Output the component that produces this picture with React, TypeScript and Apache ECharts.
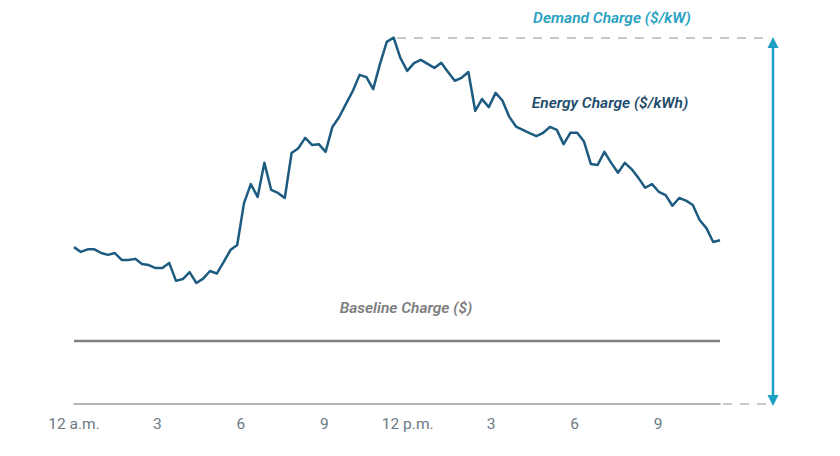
import React, { useEffect, useRef } from "react";
import * as echarts from "echarts";

// Time of each reading, in hours (15-minute intervals)
const hours: number[] = Array.from({ length: 96 }, (_, i) => i * 0.25);

// Energy charge profile (relative units, peak = 100)
const energyCharge: number[] = [
  42.8, 41.5, 42.2, 42.2, 41.2, 40.7, 41.2, 39.3, 39.3, 39.6,
  38.2, 37.9, 37.1, 37.1, 38.5, 33.6, 34.1, 36.0, 33.0, 34.2,
  36.3, 35.6, 38.7, 42.0, 43.4, 54.8, 60.0, 56.5, 65.8, 58.4,
  57.6, 56.2, 68.5, 69.8, 72.6, 70.7, 70.9, 68.8, 75.6, 78.3,
  81.9, 85.4, 89.8, 89.2, 85.9, 92.8, 98.8, 100.0, 94.4, 90.9,
  93.0, 93.9, 92.8, 91.7, 93.1, 90.6, 88.2, 89.0, 90.6, 80.0,
  83.2, 81.0, 84.9, 82.8, 78.4, 75.7, 74.8, 73.9, 73.1, 74.0,
  75.6, 74.8, 70.9, 74.0, 74.0, 71.6, 65.5, 65.2, 68.8, 65.8,
  63.1, 65.8, 64.1, 61.7, 59.0, 60.0, 57.9, 57.0, 54.1, 56.2,
  55.5, 54.3, 50.2, 48.0, 44.2, 44.7,
];

// Flat baseline charge level
const baselineHours: number[] = [0, 23.75];
const baselineCharge: number[] = [17.2, 17.2];

// X-axis tick labels (every 3 hours)
const tickLabels: string[] = ["12 a.m.", "3", "6", "9", "12 p.m.", "3", "6", "9"];

const FONT = "Roboto, 'Noto Sans', sans-serif";

export default function App() {
  const ref = useRef<HTMLDivElement>(null);

  useEffect(() => {
    if (!ref.current) return;
    const chart = echarts.init(ref.current, undefined, { renderer: "svg" });

    const teal = "#1e9fc4";
    const dashGray = "#c9c9c9";

    chart.setOption({
      animation: false,
      backgroundColor: "#ffffff",
      grid: { left: 74, right: 120, top: 37.5, bottom: 52 },
      xAxis: [
        {
          type: "value",
          min: 0,
          max: 23.75,
          show: false,
          position: "top",
        },
        {
          type: "value",
          min: 0,
          max: 23.23,
          interval: 3,
          position: "bottom",
          axisLine: { show: true, lineStyle: { color: "#9d9d9d", width: 1.5 } },
          axisTick: { show: false },
          splitLine: { show: false },
          axisLabel: {
            color: "#6c7a83",
            fontFamily: FONT,
            fontSize: 15.5,
            margin: 12,
            showMaxLabel: false,
            formatter: (v: number) => {
              const idx = Math.round(v / 3);
              if (Math.abs(v / 3 - idx) > 1e-6) return "";
              return tickLabels[idx] ?? "";
            },
          },
        },
      ],
      yAxis: {
        type: "value",
        min: 0,
        max: 100,
        show: false,
      },
      series: [
        {
          type: "line",
          xAxisIndex: 0,
          data: baselineHours.map((h, i) => [h, baselineCharge[i]]),
          showSymbol: false,
          lineStyle: { color: "#808080", width: 2.5 },
          silent: true,
        },
        {
          type: "line",
          xAxisIndex: 0,
          data: hours.map((h, i) => [h, energyCharge[i]]),
          showSymbol: false,
          lineStyle: { color: "#1d5b80", width: 2.5, join: "round" },
          silent: true,
        },
      ],
      graphic: [
        {
          type: "line",
          shape: { x1: 397, y1: 38, x2: 767, y2: 38 },
          style: { stroke: dashGray, lineWidth: 2, lineDash: [9, 8] },
        },
        {
          type: "line",
          shape: { x1: 723, y1: 404, x2: 768, y2: 404 },
          style: { stroke: dashGray, lineWidth: 2, lineDash: [9, 8] },
        },
        {
          type: "line",
          shape: { x1: 773, y1: 46, x2: 773, y2: 397 },
          style: { stroke: teal, lineWidth: 2.5 },
        },
        {
          type: "polygon",
          shape: { points: [[773, 37], [767.5, 48], [778.5, 48]] },
          style: { fill: teal },
        },
        {
          type: "polygon",
          shape: { points: [[773, 406], [767.5, 395], [778.5, 395]] },
          style: { fill: teal },
        },
        {
          type: "text",
          x: 612,
          y: 18,
          style: {
            text: "Demand Charge ($/kW)",
            fill: "#29a2c2",
            font: `italic 600 15.5px ${FONT}`,
            align: "center",
            verticalAlign: "middle",
          },
        },
        {
          type: "text",
          x: 610,
          y: 103,
          style: {
            text: "Energy Charge ($/kWh)",
            fill: "#1d4c6c",
            font: `italic 600 15.5px ${FONT}`,
            align: "center",
            verticalAlign: "middle",
          },
        },
        {
          type: "text",
          x: 406,
          y: 308,
          style: {
            text: "Baseline Charge ($)",
            fill: "#7d7d7d",
            font: `italic 600 15.5px ${FONT}`,
            align: "center",
            verticalAlign: "middle",
          },
        },
      ],
    });

    return () => chart.dispose();
  }, []);

  return (
    <div
      ref={ref}
      style={{ position: "fixed", left: 0, top: 0, width: 840, height: 456, background: "#fff" }}
    />
  );
}
